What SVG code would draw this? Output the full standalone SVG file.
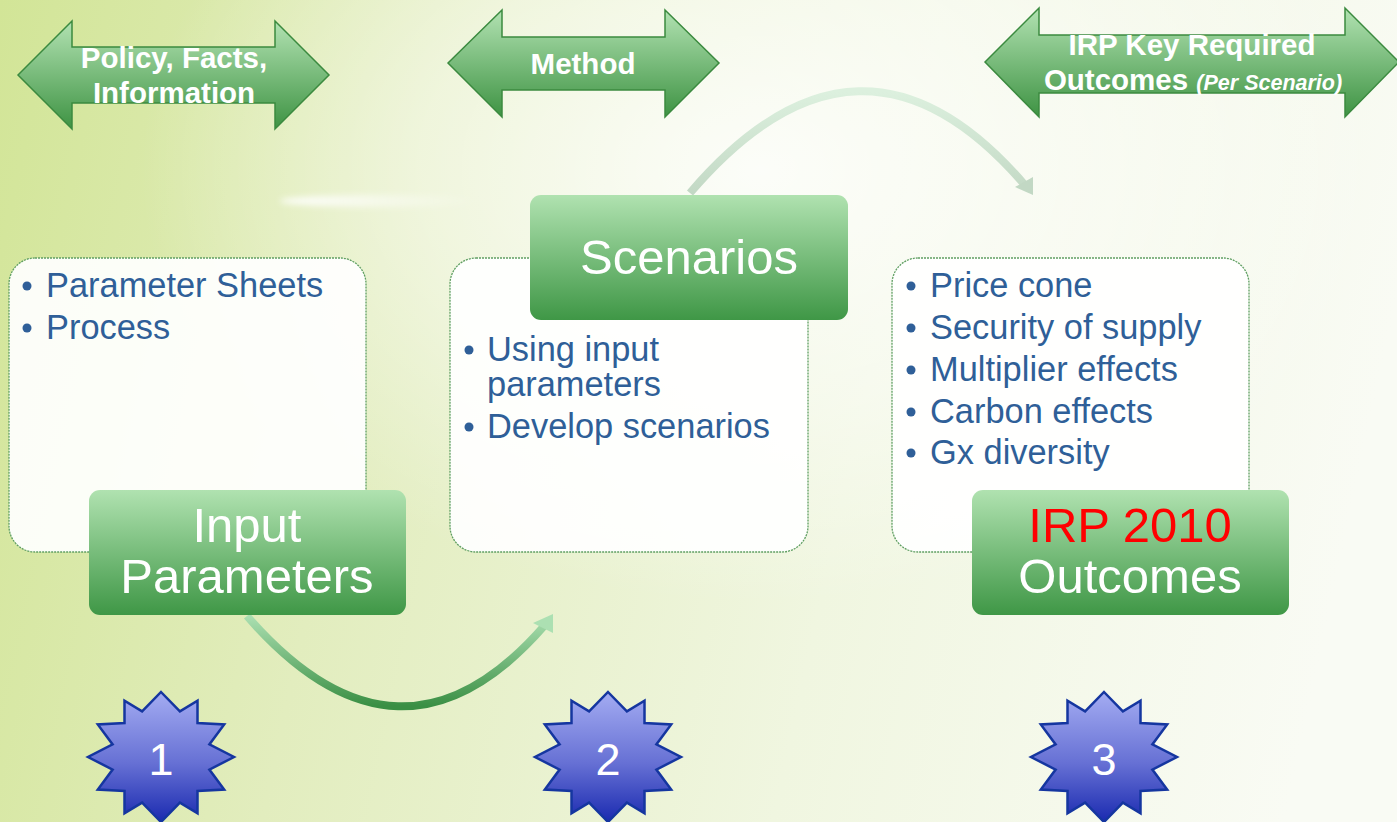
<svg xmlns="http://www.w3.org/2000/svg" width="1397" height="822" viewBox="0 0 1397 822">
<defs>
<linearGradient id="bg" x1="0" y1="0" x2="1397" y2="300" gradientUnits="userSpaceOnUse">
<stop offset="0" stop-color="#d2e597"/>
<stop offset="0.3" stop-color="#e2edbe"/>
<stop offset="0.65" stop-color="#f0f6e0"/>
<stop offset="1" stop-color="#f9fbf4"/>
</linearGradient>
<radialGradient id="wash" cx="760" cy="170" r="620" gradientUnits="userSpaceOnUse" gradientTransform="translate(760 170) scale(1 0.7) translate(-760 -170)">
<stop offset="0" stop-color="#ffffff" stop-opacity="0.85"/>
<stop offset="0.55" stop-color="#ffffff" stop-opacity="0.45"/>
<stop offset="1" stop-color="#ffffff" stop-opacity="0"/>
</radialGradient>
<linearGradient id="streak" x1="283" y1="0" x2="480" y2="0" gradientUnits="userSpaceOnUse">
<stop offset="0" stop-color="#ffffff" stop-opacity="0.95"/>
<stop offset="1" stop-color="#ffffff" stop-opacity="0"/>
</linearGradient>
<filter id="soft" x="-20%" y="-200%" width="140%" height="500%">
<feGaussianBlur stdDeviation="3"/>
</filter>
<linearGradient id="gArrow" x1="0" y1="0" x2="0" y2="1">
<stop offset="0" stop-color="#b2e2b2"/>
<stop offset="1" stop-color="#3e9343"/>
</linearGradient>
<linearGradient id="gBox" x1="0" y1="0" x2="0" y2="1">
<stop offset="0" stop-color="#b0e2b0"/>
<stop offset="1" stop-color="#3f9746"/>
</linearGradient>
<linearGradient id="gStar" x1="0" y1="0" x2="0" y2="1">
<stop offset="0" stop-color="#a4acf2"/>
<stop offset="0.55" stop-color="#6670d4"/>
<stop offset="1" stop-color="#1a2ab0"/>
</linearGradient>
<linearGradient id="gCurve1" x1="0" y1="615" x2="0" y2="706" gradientUnits="userSpaceOnUse">
<stop offset="0" stop-color="#ace0b2"/>
<stop offset="1" stop-color="#3a8f44"/>
</linearGradient>
<linearGradient id="gCurve2" x1="0" y1="92" x2="0" y2="195" gradientUnits="userSpaceOnUse">
<stop offset="0" stop-color="#dcf0de"/>
<stop offset="1" stop-color="#c2d8c4"/>
</linearGradient>
<polygon id="star" points="0,-65 18.9,-45.6 36.5,-56.3 36.5,-33.9 63.2,-32.5 48.4,-12.6 73,0 48.4,12.6 63.2,32.5 36.5,33.9 36.5,56.3 18.9,45.6 0,65 -18.9,45.6 -36.5,56.3 -36.5,33.9 -63.2,32.5 -48.4,12.6 -73,0 -48.4,-12.6 -63.2,-32.5 -36.5,-33.9 -36.5,-56.3 -18.9,-45.6"/>
</defs>
<style>
.arrow{fill:url(#gArrow);stroke:#3b8a3f;stroke-width:1.5}
.atext{font-family:"Liberation Sans",Arial,sans-serif;font-weight:bold;font-size:29.5px;fill:#ffffff;text-anchor:middle}
.panel{fill:#ffffff;fill-opacity:0.92;stroke:#5f9f62;stroke-width:1.3;stroke-dasharray:2 1}
.gbox{fill:url(#gBox)}
.btext{font-family:"Liberation Sans",Arial,sans-serif;font-size:49px;fill:#ffffff;text-anchor:middle}
.bullet{font-family:"Liberation Sans",Arial,sans-serif;font-size:34.4px;fill:#2f5f98}
.dot{fill:#2f5f98}
.star{fill:url(#gStar);stroke:#1536a0;stroke-width:2.5}
.num{font-family:"Liberation Sans",Arial,sans-serif;font-size:45px;fill:#ffffff;text-anchor:middle}
</style>
<rect width="1397" height="822" fill="url(#bg)"/>
<rect width="1397" height="822" fill="url(#wash)"/>
<ellipse cx="380" cy="201" rx="100" ry="6" fill="url(#streak)" filter="url(#soft)"/>

<g id="connectors">
<path d="M 247 616 Q 400 792 545 625" fill="none" stroke="url(#gCurve1)" stroke-width="8"/>
<polygon points="533,623 553,614 553,633" fill="#ace0b2"/>
<path d="M 690 193 Q 860 -6 1024 184" fill="none" stroke="url(#gCurve2)" stroke-width="8"/>
<polygon points="1015,187 1033,195 1033,177" fill="#c2d8c4"/>
</g>

<g id="arrow-policy">
<polygon class="arrow" points="18,75 72,21 72,47 275,47 275,21 329,75 275,129 275,103 72,103 72,129"/>
<text class="atext" x="174" y="68">Policy, Facts,</text>
<text class="atext" x="174" y="103">Information</text>
</g>
<g id="arrow-method">
<polygon class="arrow" points="448,63 502,10 502,37 665,37 665,10 719,63 665,117 665,90 502,90 502,117"/>
<text class="atext" x="583" y="74">Method</text>
</g>
<g id="arrow-outcomes">
<polygon class="arrow" points="985,62 1039,8 1039,35 1345,35 1345,8 1399,62 1345,117 1345,93 1039,93 1039,117"/>
<text class="atext" x="1192" y="55">IRP Key Required</text>
<text class="atext" x="1193" y="90">Outcomes <tspan font-style="italic" font-size="21.5">(Per Scenario)</tspan></text>
</g>

<g id="panel1">
<rect class="panel" x="9" y="258" width="357" height="294" rx="26"/>
<circle class="dot" cx="27" cy="286" r="4.5"/>
<text class="bullet" x="46" y="297">Parameter Sheets</text>
<circle class="dot" cx="27" cy="328" r="4.5"/>
<text class="bullet" x="46" y="339">Process</text>
</g>
<g id="panel2">
<rect class="panel" x="450" y="258" width="358" height="294" rx="26"/>
<circle class="dot" cx="469" cy="350" r="4.5"/>
<text class="bullet" x="487" y="361">Using input</text>
<text class="bullet" x="487" y="396">parameters</text>
<circle class="dot" cx="469" cy="427" r="4.5"/>
<text class="bullet" x="487" y="438">Develop scenarios</text>
</g>
<g id="panel3">
<rect class="panel" x="892" y="258" width="357" height="294" rx="26"/>
<circle class="dot" cx="911" cy="286" r="4.5"/>
<text class="bullet" x="930" y="297">Price cone</text>
<circle class="dot" cx="911" cy="328" r="4.5"/>
<text class="bullet" x="930" y="339">Security of supply</text>
<circle class="dot" cx="911" cy="370" r="4.5"/>
<text class="bullet" x="930" y="381">Multiplier effects</text>
<circle class="dot" cx="911" cy="412" r="4.5"/>
<text class="bullet" x="930" y="423">Carbon effects</text>
<circle class="dot" cx="911" cy="453" r="4.5"/>
<text class="bullet" x="930" y="464">Gx diversity</text>
</g>

<g id="input-parameters">
<rect class="gbox" x="89" y="490" width="317" height="125" rx="11"/>
<text class="btext" x="247" y="542">Input</text>
<text class="btext" x="247" y="593">Parameters</text>
</g>
<g id="scenarios">
<rect class="gbox" x="530" y="195" width="318" height="125" rx="11"/>
<text class="btext" x="689" y="274">Scenarios</text>
</g>
<g id="irp-outcomes">
<rect class="gbox" x="972" y="490" width="317" height="125" rx="11"/>
<text class="btext" x="1130" y="542" style="fill:#ff0000">IRP 2010</text>
<text class="btext" x="1130" y="593">Outcomes</text>
</g>

<g id="star1">
<use href="#star" class="star" x="161" y="757"/>
<text class="num" x="161" y="775">1</text>
</g>
<g id="star2">
<use href="#star" class="star" x="608" y="757"/>
<text class="num" x="608" y="775">2</text>
</g>
<g id="star3">
<use href="#star" class="star" x="1104" y="757"/>
<text class="num" x="1104" y="775">3</text>
</g>
</svg>
